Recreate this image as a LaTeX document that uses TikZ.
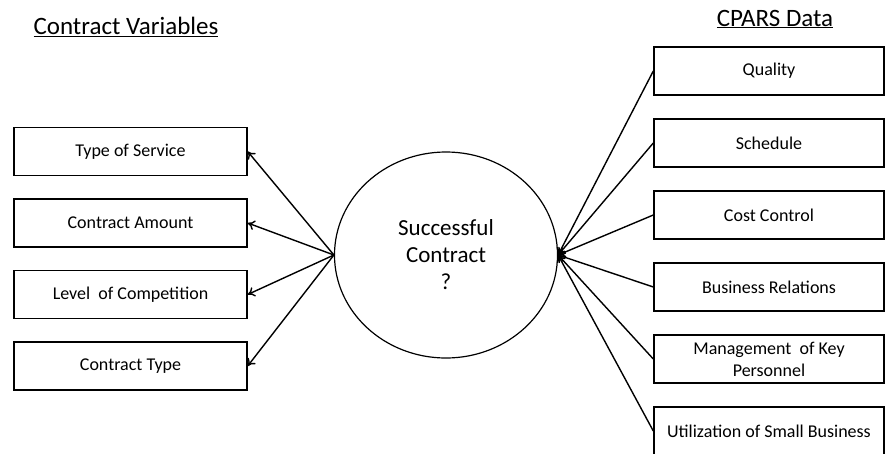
\documentclass[tikz,border=0pt]{standalone}
\usepackage{fontspec}
\setmainfont{Carlito}
\usetikzlibrary{shapes.geometric,arrows.meta}

\begin{document}
\begin{tikzpicture}[x=1pt,y=1pt]
				\tikzstyle{every node}+=[inner sep=0pt]
				\tikzstyle{varbox}=[draw=black, line width=1.4pt, minimum width=233pt, minimum height=48pt, align=center, font=\fontsize{18}{22}\selectfont]
				\tikzstyle{cparsbox}=[varbox, minimum width=230pt]
				\tikzstyle{heading}=[font=\fontsize{25}{28}\selectfont]
				\tikzstyle{link}=[black, line width=1.4pt, -{To[length=7pt,width=10pt]}]
				\useasboundingbox (0,0) rectangle (886,-453);
				\node [heading] (title1) at (126,-27) {\underline{Contract Variables}};
				\node [heading] (title2) at (775,-19) {\underline{CPARS Data}};
				\node [ellipse, draw=black, line width=1.2pt, minimum width=223pt, minimum height=206pt, align=center, font=\fontsize{23}{27}\selectfont] (succ) at (446,-255) {Successful\\Contract\\?};
				\node [varbox] (service) at (130.5,-151.5) {Type of Service};
				\node [varbox] (amount) at (130.5,-223) {Contract Amount};
				\node [varbox] (comp) at (130.5,-294.5) {Level \ of Competition};
				\node [varbox] (ctype) at (130.5,-366) {Contract Type};
				\node [cparsbox] (quality) at (769,-71) {Quality};
				\node [cparsbox] (sched) at (769,-143) {Schedule};
				\node [cparsbox] (cost) at (769,-215) {Cost Control};
				\node [cparsbox] (busrel) at (769,-287) {Business Relations};
				\node [cparsbox] (keypers) at (769,-359) {Management \ of Key\\Personnel};
				\node [cparsbox] (smallbus) at (769,-431) {Utilization of Small Business};
				\foreach \v in {service,amount,comp,ctype}
					\draw [link] (succ.west) -- (\v.east);
				\foreach \c in {quality,sched,cost,busrel,keypers,smallbus}
					\draw [link] (\c.west) -- (succ.east);
			\end{tikzpicture}
\end{document}
